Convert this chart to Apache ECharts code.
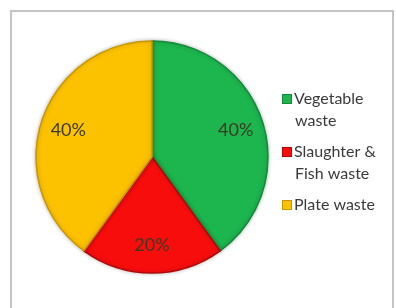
<!DOCTYPE html>
<html>
<head>
<meta charset="utf-8">
<script src="https://cdn.jsdelivr.net/npm/echarts@6/dist/echarts.min.js"></script>
<style>
  html, body { margin: 0; padding: 0; background: #fff; }
  #chart { width: 396px; height: 308px; }
</style>
</head>
<body>
<div id="chart"></div>
<script>
// waste categories, shares (%) and colours
const categories = ['Vegetable waste', 'Slaughter & Fish waste', 'Plate waste']
const legendLines = [['Vegetable', 'waste'], ['Slaughter &', 'Fish waste'], ['Plate waste']]
const shares = [40, 20, 40]
const colors = ['#1cb54e', '#f80d0d', '#fcc200']
const edgeColors = ['#138a3a', '#b00808', '#c99600']

const chart = echarts.init(document.getElementById('chart'))

let pieData = []
for (let i = 0; i < categories.length; ++i) {
  pieData.push({
    name: categories[i],
    value: shares[i],
    itemStyle: { color: colors[i], borderColor: edgeColors[i] }
  })
}

let rich = {
  t: { fontSize: 16, lineHeight: 22, color: '#3a3a3a', fontFamily: 'Lato', padding: [0, 0, 0, 3] },
  sp: { width: 9 }
}
for (let i = 0; i < colors.length; ++i) {
  rich['b' + i] = { width: 8, height: 8, backgroundColor: colors[i], borderColor: edgeColors[i], borderWidth: 1 }
}

chart.setOption({
  animation: false,
  graphic: [{
    type: 'rect',
    shape: { x: 11, y: 11, width: 382, height: 320 },
    style: { fill: 'none', stroke: '#c4c4c4', lineWidth: 2 },
    silent: true
  }],
  legend: {
    orient: 'vertical',
    left: 272,
    top: 86,
    itemWidth: 0,
    itemHeight: 0,
    itemGap: 15,
    itemStyle: { opacity: 0 },
    selectedMode: false,
    data: categories,
    formatter: function (name) {
      const i = categories.indexOf(name)
      const lines = legendLines[i]
      let s = '{b' + i + '| }{t|' + lines[0] + '}'
      if (lines[1]) s += '\n{sp| }{t|' + lines[1] + '}'
      return s
    },
    textStyle: { rich: rich }
  },
  series: [
    {
      type: 'pie',
      center: [152, 157],
      radius: 116,
      startAngle: 90,
      clockwise: true,
      silent: true,
      label: { show: false },
      labelLine: { show: false },
      itemStyle: { borderWidth: 1.5, shadowBlur: 4, shadowColor: 'rgba(0,0,0,0.25)' },
      data: pieData
    },
    {
      // transparent copy of the pie, only used to place the percentage labels
      type: 'pie',
      center: [152, 157],
      radius: [54, 116],
      startAngle: 90,
      clockwise: true,
      silent: true,
      legendHoverLink: false,
      itemStyle: { color: 'rgba(0,0,0,0)' },
      label: {
        show: true,
        position: 'inside',
        formatter: '{d}%',
        fontSize: 18,
        fontFamily: 'Lato',
        color: '#3b3b24'
      },
      data: categories.map((c, i) => ({ name: c + ' ', value: shares[i] }))
    }
  ]
})
</script>
</body>
</html>
